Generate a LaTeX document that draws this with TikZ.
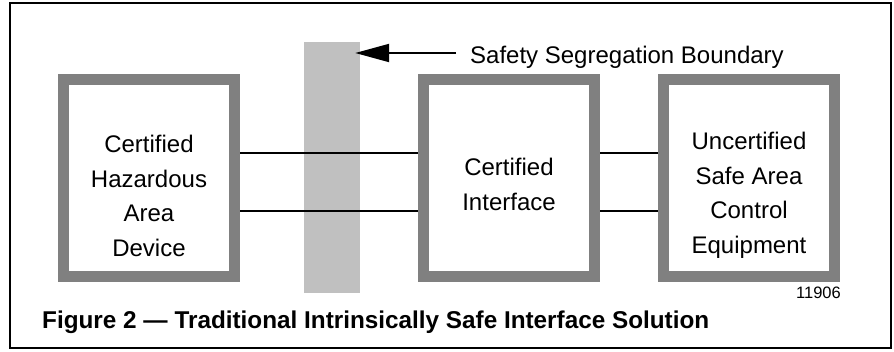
\documentclass[tikz,border=0pt]{standalone}
\usepackage{fontspec}
\setmainfont{Liberation Sans}
\usepackage{xcolor}
\usetikzlibrary{arrows.meta,positioning}
\definecolor{boxgray}{HTML}{808080}
\definecolor{bargray}{HTML}{C0C0C0}

\begin{document}
\begin{tikzpicture}[
  x=1pt, y=-1pt,
  font=\fontsize{24}{34.6}\selectfont,
  unitbox/.style={draw=boxgray, line width=11pt, minimum width=171pt,
               minimum height=197pt, inner sep=0pt},
  boxtext/.style={align=center, anchor=north, inner sep=0pt},
  wire/.style={line width=2pt},
  pointer/.style={-{Triangle[length=34pt, width=18pt]}, line width=2pt}
]
\useasboundingbox (0,0) rectangle (894,351);
\draw[line width=2.5pt] (10,3) rectangle (891,348);

\node[fill=bargray, minimum width=56pt, minimum height=251pt, inner sep=0pt] (bar) at (332,167.5) {};

\node[unitbox] (hz) at (149,178) {};
\node[unitbox] (ci) at (509,178) {};
\node[unitbox] (sa) at (749,178) {};

\node[boxtext] (hzt) at (149,135) {Certified\\Hazardous\\Area\\Device};
\node[boxtext] (cit) at (509,158) {Certified\\Interface};
\node[boxtext] (sat) at (749,132) {Uncertified\\Safe Area\\Control\\Equipment};

\draw[wire] ([yshift=25pt]hz.east) -- ([yshift=25pt]ci.west);
\draw[wire] ([yshift=-33pt]hz.east) -- ([yshift=-33pt]ci.west);
\draw[wire] ([yshift=25pt]ci.east) -- ([yshift=25pt]sa.west);
\draw[wire] ([yshift=-33pt]ci.east) -- ([yshift=-33pt]sa.west);

\node[anchor=base west, inner sep=0pt] (sb) at (470,63) {Safety Segregation Boundary};
\coordinate (tail) at (456,53);
\draw[pointer] (tail) -- ([xshift=-5pt]bar.east |- tail);

\node[anchor=base east, inner sep=0pt, font=\fontsize{16.5}{18}\selectfont] (num) at (841,298) {11906};
\node[anchor=base west, inner sep=0pt, font=\fontsize{24.3}{28}\selectfont\bfseries] (cap) at (42,328)
  {Figure 2 --- Traditional Intrinsically Safe Interface Solution};
\end{tikzpicture}
\end{document}
